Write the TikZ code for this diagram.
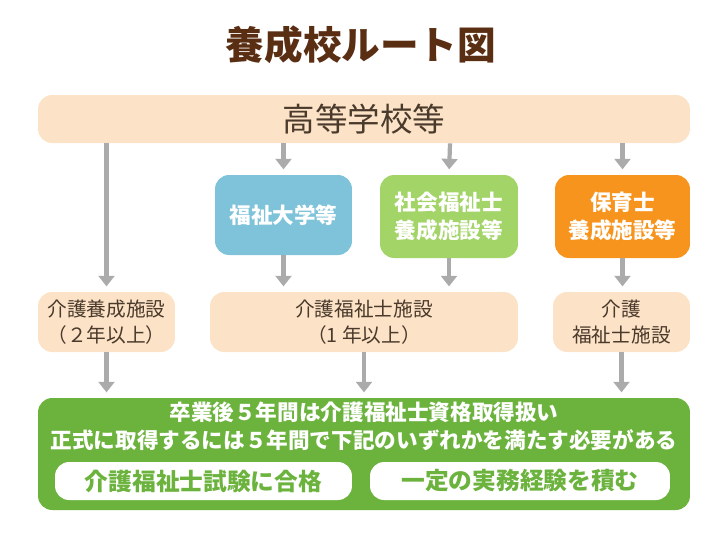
\documentclass[tikz,border=0pt]{standalone}
\usepackage{fontspec}
\setmainfont{Noto Sans CJK JP}
\usetikzlibrary{arrows.meta}
\definecolor{peach}{HTML}{FCE2C6}
\definecolor{txt}{HTML}{4A3A2C}
\definecolor{titlec}{HTML}{5A2E12}
\definecolor{blueb}{HTML}{7EC3DA}
\definecolor{greenb}{HTML}{A3D468}
\definecolor{orangeb}{HTML}{F7941D}
\definecolor{greend}{HTML}{6CB33E}
\definecolor{arrc}{HTML}{ABABAB}
\tikzset{
    box/.style={rectangle, rounded corners=8pt, align=center, inner sep=2pt},
    soft/.style={box, fill=peach, text=txt, font=\fontsize{11.2}{15}\selectfont},
    route/.style={box, text=white, font=\bfseries\fontsize{12.3}{16}\selectfont},
    result/.style={box, fill=white, text=greend, font=\bfseries\fontsize{13.5}{15}\selectfont},
    arr/.style={-{Triangle[length=6pt,width=9pt]}, line width=2.4pt, draw=arrc, shorten >=3pt}
}
\begin{document}
\begin{tikzpicture}[x=0.02cm, y=-0.02cm]
    \useasboundingbox (0,0) rectangle (726,545);

    \node[text=titlec, font=\bfseries\fontsize{22}{24}\selectfont] (title) at (361,45) {養成校ルート図};

    \node[soft, minimum width=13.04cm, minimum height=0.96cm, font=\fontsize{18.5}{20}\selectfont] (school) at (364,119) {高等学校等};

    \node[route, fill=blueb, minimum width=2.74cm, minimum height=1.6cm] (univ) at (283.5,215) {福祉大学等};
    \node[route, fill=greenb, minimum width=2.76cm, minimum height=1.66cm] (social) at (449,216.5) {社会福祉士\\養成施設等};
    \node[route, fill=orangeb, minimum width=2.7cm, minimum height=1.66cm] (nursery) at (622.5,216.5) {保育士\\養成施設等};

    \node[soft, minimum width=2.74cm, minimum height=1.2cm] (kaigo) at (106.5,322) {介護養成施設\\（２年以上）};
    \node[soft, minimum width=6.16cm, minimum height=1.2cm] (facility) at (364,322) {介護福祉士施設\\（1 年以上）};
    \node[soft, minimum width=2.74cm, minimum height=1.2cm] (facility2) at (621.5,322) {介護\\福祉士施設};

    \node[box, fill=greend, minimum width=13.04cm, minimum height=2.24cm] (goal) at (364,454) {};
    \node[text=white, font=\bfseries\fontsize{12.3}{14}\selectfont] (line1) at (364,412) {卒業後５年間は介護福祉士資格取得扱い};
    \node[text=white, font=\bfseries\fontsize{12.3}{14}\selectfont] (line2) at (364,440) {正式に取得するには５年間で下記のいずれかを満たす必要がある};
    \node[result, minimum width=5.94cm, minimum height=0.76cm] (exam) at (203.5,481) {介護福祉士試験に合格};
    \node[result, minimum width=6cm, minimum height=0.76cm] (work) at (520,481) {一定の実務経験を積む};

    % arrows
    \draw[arr] (school.south -| kaigo.north) -- (kaigo.north);
    \draw[arr] (school.south -| univ.north) -- (univ.north);
    \draw[arr] (school.south -| 450,0) -- (social.north);
    \draw[arr] (school.south -| nursery.north) -- (nursery.north);
    \draw[arr] (univ.south) -- (univ.south |- facility.north);
    \draw[arr] (social.south) -- (social.south |- facility.north);
    \draw[arr] (nursery.south) -- (nursery.south |- facility2.north);
    \draw[arr] (kaigo.south) -- (kaigo.south |- goal.north);
    \draw[arr] (facility.south) -- (goal.north);
    \draw[arr] (facility2.south) -- (facility2.south |- goal.north);
\end{tikzpicture}
\end{document}
